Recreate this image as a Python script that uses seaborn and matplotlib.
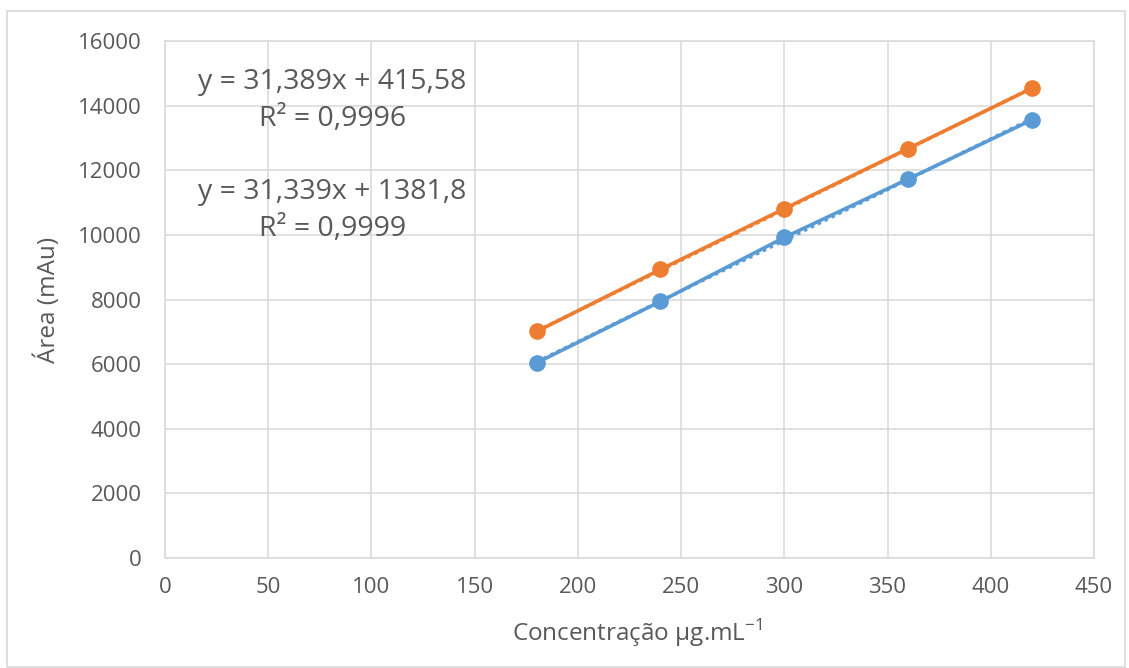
import numpy as np
import pandas as pd
import seaborn as sns
import matplotlib
matplotlib.use("Agg")
import matplotlib.pyplot as plt
from matplotlib.patches import Rectangle

# Calibration data: concentration (µg/mL) vs. peak area (mAu)
concentracao = [180, 240, 300, 360, 420]
area_serie1 = [6040, 7940, 9920, 11730, 13560]
area_serie2 = [7010, 8930, 10810, 12670, 14540]

# Linear trendline coefficients (slope, intercept, R²) shown on the chart
slopes = [31.389, 31.339]
intercepts = [415.58, 1381.8]
r2_values = [0.9996, 0.9999]

series_names = ["Série 1", "Série 2"]
colors = ["#5B9BD5", "#ED7D31"]

x_ticks = [0, 50, 100, 150, 200, 250, 300, 350, 400, 450]
y_ticks = [0, 2000, 4000, 6000, 8000, 10000, 12000, 14000, 16000]

sns.set_theme(style="white")
plt.rcParams["font.family"] = ["Open Sans", "DejaVu Sans"]
plt.rcParams["mathtext.fontset"] = "custom"
plt.rcParams["mathtext.rm"] = "Open Sans"

text_color = "#595959"
grid_color = "#D9D9D9"

df = pd.DataFrame({
    "x": concentracao * 2,
    "y": area_serie1 + area_serie2,
    "serie": [series_names[0]] * 5 + [series_names[1]] * 5,
})

fig = plt.figure(figsize=(11.29, 6.68), dpi=100)
ax = fig.add_axes([165 / 1129, 1 - 558 / 668, (1094 - 165) / 1129, (558 - 41) / 668])

# Outer chart border
fig.patches.append(Rectangle((7 / 1129, 0.0015), (1125 - 7) / 1129, 1 - 11 / 668 - 0.0015,
                             transform=fig.transFigure, fill=False,
                             edgecolor=grid_color, linewidth=1.2))

# Dotted linear trendlines from the fitted coefficients
xs = np.array([min(concentracao), max(concentracao)])
for m, b, c in zip(slopes, intercepts, colors):
    ax.plot(xs, m * xs + b, linestyle=(0, (1, 1.2)), color=c, linewidth=2.5, zorder=2)

sns.lineplot(data=df, x="x", y="y", hue="serie", palette=colors, marker="o",
             markersize=12, markeredgewidth=0, linewidth=2.6, legend=False,
             ax=ax, zorder=3)

ax.set_xlim(0, 450)
ax.set_ylim(0, 16000)
ax.set_xticks(x_ticks)
ax.set_yticks(y_ticks)
ax.grid(True, color=grid_color, linewidth=1.1)
ax.set_axisbelow(True)
for s in ax.spines.values():
    s.set_color(grid_color)
    s.set_linewidth(1.1)
ax.tick_params(axis="both", length=0, labelsize=16, colors=text_color)
ax.tick_params(axis="y", pad=17)
ax.tick_params(axis="x", pad=14)

ax.set_xlabel("Concentração µg.mL$^{\\mathregular{-1}}$", fontsize=17.5,
              color=text_color, labelpad=10)
ax.xaxis.set_label_coords(0.508, -0.115)
ax.set_ylabel("Área (mAu)", fontsize=17.5, color=text_color, labelpad=12)

# Trendline equations
eq_y = [(0.921, 0.85), (0.708, 0.637)]
for m, b, r2, (y1, y2) in zip(slopes, intercepts, r2_values, eq_y):
    eq = "y = {}x + {}".format(f"{m:g}".replace(".", ","), f"{b:g}".replace(".", ","))
    r2t = "R² = {}".format(f"{r2:g}".replace(".", ","))
    ax.text(0.18, y1, eq, transform=ax.transAxes, ha="center", va="center",
            fontsize=20.5, color=text_color)
    ax.text(0.18, y2, r2t, transform=ax.transAxes, ha="center", va="center",
            fontsize=20.5, color=text_color)

fig.savefig("out.png", dpi=100, facecolor="white")
